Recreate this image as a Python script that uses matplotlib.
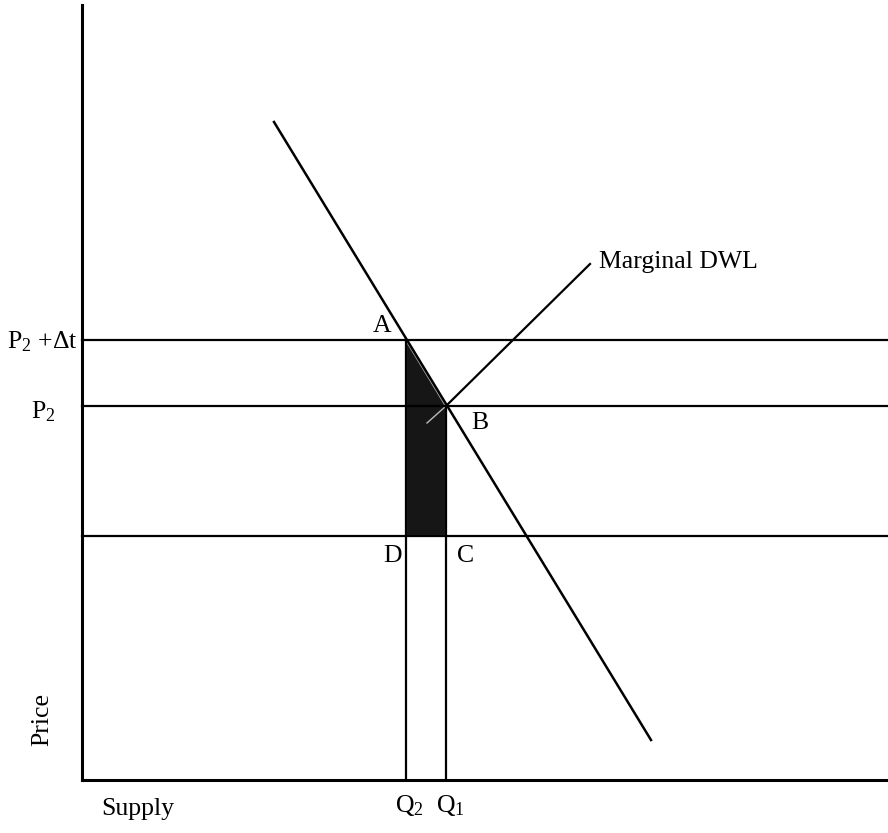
import matplotlib.pyplot as plt
from matplotlib.patches import Polygon

plt.rcParams['font.family'] = ['Liberation Serif', 'DejaVu Serif']
plt.rcParams['mathtext.fontset'] = 'custom'
plt.rcParams['mathtext.rm'] = 'Liberation Serif'
plt.rcParams['mathtext.it'] = 'Liberation Serif'

# quantity / price levels (arbitrary units)
demand_q = [192, 569]
demand_p = [658, 40]
p_levels = [440, 374, 244]          # P2+dt, P2, lower price
q2, q1 = 324, 364
dwl_end = (508, 516)
q_max, p_max = 806, 775

fig = plt.figure(figsize=(8.88, 8.33), dpi=100)
ax = fig.add_axes([0, 0, 1, 1])
ax.set_xlim(-82, 806)
ax.set_ylim(-53, 780)
ax.axis('off')

# shaded area A-B-C-D
pa = (q2, p_levels[0])
pb = (q1, p_levels[1])
poly = Polygon([pa, pb, (q1, p_levels[2]), (q2, p_levels[2])],
               closed=True, facecolor='#161616', edgecolor='#b0b0b0', lw=1.5, zorder=2)
ax.add_patch(poly)
ax.plot([q2 + 2, q1], [p_levels[1], p_levels[1]], color='#d0d0d0', lw=1.4, zorder=3)

# axes
ax.plot([0, 0], [0, p_max], color='black', lw=2.2, zorder=4)
ax.plot([0, q_max], [0, 0], color='black', lw=2.2, zorder=4)

for p in p_levels:
    ax.plot([0, q_max], [p, p], color='black', lw=1.6, zorder=4)

ax.plot([q2, q2], [0, p_levels[0]], color='black', lw=1.6, zorder=4)
ax.plot([q1, q1], [0, p_levels[1]], color='black', lw=1.6, zorder=4)

ax.plot(demand_q, demand_p, color='black', lw=1.8, zorder=4)

# marginal DWL pointer
ax.plot([pb[0], dwl_end[0]], [pb[1], dwl_end[1]], color='black', lw=1.6, zorder=4)
ax.plot([pb[0], pb[0] - 19], [pb[1], pb[1] - 17], color='#bbbbbb', lw=1.0, zorder=3)

fs = 18.5
ax.text(dwl_end[0] + 9, dwl_end[1] + 2, 'Marginal DWL', fontsize=fs, va='center', ha='left')
ax.text(-4, p_levels[0] - 2, r'P$_2$ +$\Delta$t', fontsize=fs, va='center', ha='right')
ax.text(-26, p_levels[1] - 6, r'P$_2$', fontsize=fs, va='center', ha='right')
ax.text(pa[0] - 24, pa[1] + 14, 'A', fontsize=fs, va='center', ha='center')
ax.text(pb[0] + 34, pb[1] - 17, 'B', fontsize=fs, va='center', ha='center')
ax.text(q2 - 13, p_levels[2] - 20, 'D', fontsize=fs, va='center', ha='center')
ax.text(q1 + 20, p_levels[2] - 20, 'C', fontsize=fs, va='center', ha='center')
ax.text(q2 + 3, -26, r'Q$_2$', fontsize=fs, va='center', ha='center')
ax.text(q1 + 4, -26, r'Q$_1$', fontsize=fs, va='center', ha='center')
ax.text(56, -29, 'Supply', fontsize=fs, va='center', ha='center')
ax.text(-40, 60, 'Price', fontsize=fs, va='center', ha='center', rotation=90)

fig.savefig('out.png', dpi=100)
